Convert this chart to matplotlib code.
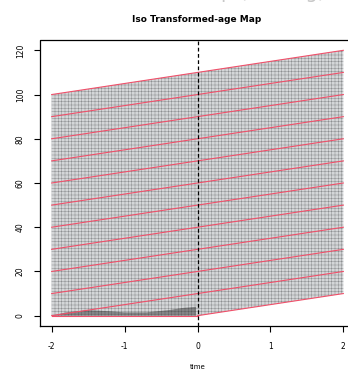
import numpy as np
import matplotlib
matplotlib.use("Agg")
import matplotlib.pyplot as plt

plt.rcParams['hatch.linewidth'] = 0.35

# data
ages = [0, 10, 20, 30, 40, 50, 60, 70, 80, 90, 100]
t_start, t_mid, t_end = -2, 0, 2
slope = 5  # age units per time unit
xticks = [-2, -1, 0, 1, 2]
yticks = [0, 20, 40, 60, 80, 100, 120]
# dark wedge at the bottom (estimated)
wedge_t = [-2, -1.8, -1.5, -1.2, -1.0, -0.7, -0.4, -0.2, -0.02]
wedge_y = [0, 1.5, 2.5, 2, 1.5, 1.5, 2.5, 3.5, 4]

fig = plt.figure(figsize=(3.48, 3.71), dpi=100)
ax = fig.add_axes([40/348, 1-326.3/371, 315/348, (326.3-39.7)/371])

red = '#f0506a'
tt = np.array([t_start, t_mid, t_end])
lower = np.array([0, 0, slope*(t_end - t_mid)])
upper = np.array([ages[-1] + slope*(x - t_start) for x in tt])
ax.fill_between(tt, lower, upper, facecolor='#d4d6d8', edgecolor='#8c8e90',
                hatch='+++++', linewidth=0, zorder=1)
ax.fill_between(wedge_t, 0, wedge_y, facecolor='#222222', edgecolor='none',
                alpha=0.45, zorder=2)

for a in ages:
    ax.plot([t_start, t_end], [a, a + slope*(t_end - t_start)], color=red, lw=0.8, zorder=3)
ax.plot([t_start, t_mid], [0, 0], color=red, lw=0.8, zorder=3)
ax.plot([t_mid, t_end], [0, slope*(t_end - t_mid)], color=red, lw=0.8, zorder=3)

ax.axvline(0, color='black', ls=(0, (3, 2)), lw=0.9, zorder=4)

ax.set_xlim(-2.16, 2.16)
ax.set_ylim(-4.8, 124.8)
ax.set_xticks(xticks)
ax.set_xticklabels([str(x) for x in xticks], fontsize=5.5)
ax.set_yticks(yticks)
ax.set_yticklabels([str(y) for y in yticks], fontsize=5.5, rotation=90, va='center')
ax.tick_params(length=4, width=0.8, pad=7)
for s in ax.spines.values():
    s.set_visible(False)
ax.set_xlabel('time', fontsize=5, labelpad=10)

# R-style box
ax.plot([0, 1, 1, 0, 0], [0, 0, 1, 1, 0], transform=ax.transAxes, color='black',
        lw=0.9, clip_on=False, zorder=5)

fig.text(197/348, 1-19/371, 'Iso Transformed-age Map', ha='center', va='center',
         fontsize=6.5, fontweight='bold')
fig.text(240/348, 1+8/371, 'Iso-map (Scaling)', ha='center', va='center',
         fontsize=14, color='#c8c8c8')

fig.savefig('out.png', dpi=100)
